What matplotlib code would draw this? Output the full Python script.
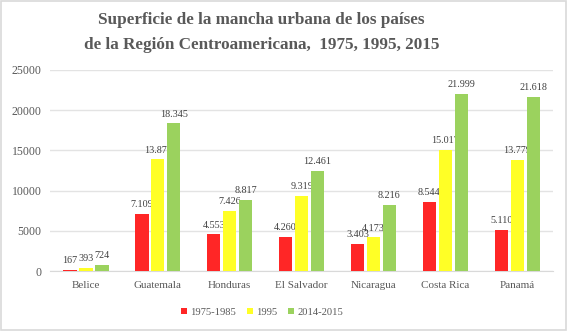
import matplotlib.pyplot as plt
import numpy as np
from matplotlib.patches import Rectangle

countries = ['Belice', 'Guatemala', 'Honduras', 'El Salvador', 'Nicaragua', 'Costa Rica', 'Panamá']
series_names = ['1975-1985', '1995', '2014-2015']
v1975 = [167, 7109, 4553, 4260, 3403, 8544, 5110]
v1995 = [393, 13875, 7426, 9319, 4173, 15017, 13779]
v2015 = [724, 18345, 8817, 12461, 8216, 21999, 21618]
yticks = [0, 5000, 10000, 15000, 20000, 25000]

colors = ['#FF2626', '#FFFF26', '#9BD25E']
txt = '#595959'

plt.rcParams['font.family'] = ['Liberation Serif', 'DejaVu Serif']

fig = plt.figure(figsize=(5.68, 3.31), dpi=100)
fig.patches.append(Rectangle((0.002, 0.003), 0.995, 0.993, transform=fig.transFigure,
                             fill=False, edgecolor='#D9D9D9', linewidth=1.2))
ax = fig.add_axes([0.088, 0.181, 0.886, 0.608])

x = np.arange(len(countries))
w = 0.185
off = 0.222
for i, vals in enumerate([v1975, v1995, v2015]):
    pos = x + (i - 1) * off
    ax.bar(pos, vals, width=w, color=colors[i], label=series_names[i], zorder=3)
    for px, v in zip(pos, vals):
        lab = f'{v:,}'.replace(',', '.')
        ax.text(px, v + 600, lab, ha='center', va='bottom', fontsize=7.3, color='#404040')

ax.set_xlim(-0.5, len(countries) - 0.5)
ax.set_ylim(0, 25000)
ax.set_yticks(yticks)
ax.set_yticklabels([str(t) for t in yticks])
ax.set_xticks(x)
ax.set_xticklabels(countries)
ax.tick_params(axis='both', length=0, colors=txt)
ax.tick_params(axis='x', pad=7, labelsize=8)
ax.tick_params(axis='y', pad=6, labelsize=8.5)
ax.grid(axis='y', color='#E3E3E3', linewidth=1, zorder=0)
for s in ['top', 'right', 'left']:
    ax.spines[s].set_visible(False)
ax.spines['bottom'].set_color('#D9D9D9')

fig.text(0.46, 0.902, 'Superficie de la mancha urbana de los países\nde la Región Centroamericana,  1975, 1995, 2015',
         ha='center', va='center', fontsize=12.3, fontweight='bold', color=txt, linespacing=1.8)

leg = fig.legend(loc='center', bbox_to_anchor=(0.461, 0.057), ncol=3, frameon=False,
                 fontsize=7.6, handlelength=0.6, handleheight=0.6, handletextpad=0.3,
                 columnspacing=1.0)
for t in leg.get_texts():
    t.set_color(txt)

fig.savefig('out.png', dpi=100)
